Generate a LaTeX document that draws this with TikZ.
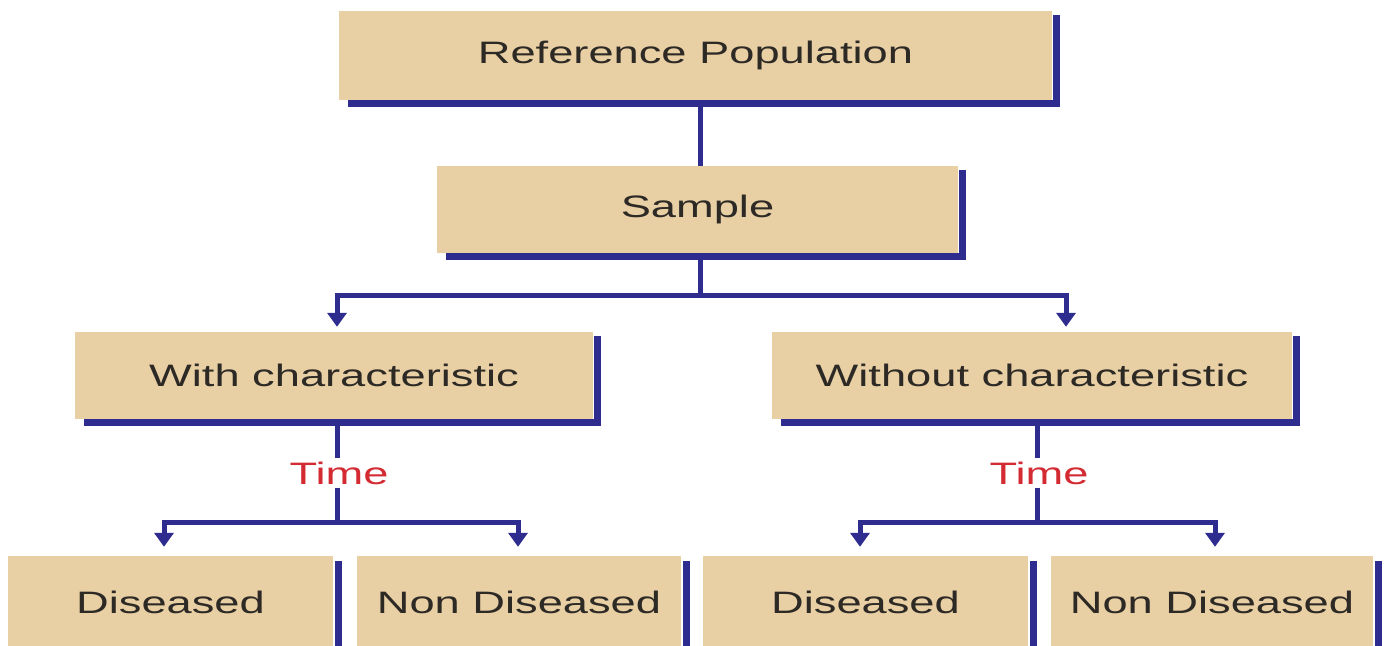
\documentclass[tikz,border=0pt]{standalone}
\usepackage{graphicx}
\usepackage{fontspec}
\setmainfont{Liberation Sans}
\usetikzlibrary{arrows.meta}
\definecolor{boxtan}{HTML}{E8CFA4}
\definecolor{lineblue}{HTML}{2E2D8F}
\definecolor{timered}{HTML}{D42B33}
\definecolor{textdark}{HTML}{2D2A26}
\newcommand\wtxt[1]{\scalebox{1.46}[1]{#1}}
\tikzset{
  box/.style={fill=boxtan, inner sep=0pt, text=textdark,
    font=\fontsize{31}{37}\selectfont},
  shade line/.style={draw=lineblue, line width=7pt},
  conn/.style={draw=lineblue, line width=5pt},
  arr/.style={-{Triangle[length=14pt,width=19pt]}},
  timetxt/.style={inner sep=3pt, text=timered,
    font=\fontsize{31}{37}\selectfont}
}
\begin{document}
\begin{tikzpicture}[x=1pt,y=-1pt]
\useasboundingbox (0,0) rectangle (1386,645);
\clip (0,0) rectangle (1386,645);
\fill[white] (0,0) rectangle (1386,645);
% boxes
\node[box, minimum width=713pt, minimum height=89pt] (ref) at (695.5,55.5) {\wtxt{Reference Population}};
\node[box, minimum width=521pt, minimum height=87pt] (sample) at (697.5,209.5) {\wtxt{Sample}};
\node[box, minimum width=518pt, minimum height=87pt] (with) at (334,375.5) {\wtxt{With characteristic}};
\node[box, minimum width=520pt, minimum height=87pt] (without) at (1032,375.5) {\wtxt{Without characteristic}};
\node[box, minimum width=325pt, minimum height=92pt] (dl) at (170.5,602) {\wtxt{Diseased}};
\node[box, minimum width=324pt, minimum height=92pt] (nl) at (519,602) {\wtxt{Non Diseased}};
\node[box, minimum width=325pt, minimum height=92pt] (dr) at (865.5,602) {\wtxt{Diseased}};
\node[box, minimum width=322pt, minimum height=92pt] (nr) at (1212,602) {\wtxt{Non Diseased}};
% shadows
\foreach \b in {ref,sample,with,without}{
  \draw[shade line] ([xshift=9pt,yshift=-3.5pt]\b.south west) -| ([xshift=4.5pt,yshift=-4pt]\b.north east);
}
\foreach \b in {dl,nl,dr,nr}{
  \draw[shade line] ([xshift=5pt,yshift=-5pt]\b.north east) -- ([xshift=5pt,yshift=-60pt]\b.south east);
}
% connector coordinates
\coordinate (tA) at (700,0);
\coordinate (j1) at (700,295);
\coordinate (aL) at (337,0);
\coordinate (aR) at (1066,0);
\coordinate (j2) at (337,522);
\coordinate (j3) at (1037,522);
\coordinate (bL1) at (164,0);
\coordinate (bL2) at (518,0);
\coordinate (bR1) at (860,0);
\coordinate (bR2) at (1215,0);
% time labels
\node[timetxt] (t1) at (339,473) {\wtxt{Time}};
\node[timetxt] (t2) at (1039,473) {\wtxt{Time}};
% connectors
\draw[conn] ([yshift=-3pt]ref.south -| tA) -- (sample.north -| tA);
\draw[conn] ([yshift=-3pt]sample.south -| tA) -- (j1);
\draw[conn,arr] (j1) -| ([yshift=5pt]with.north -| aL);
\draw[conn,arr] (j1) -| ([yshift=5pt]without.north -| aR);
\draw[conn] ([yshift=-3pt]with.south -| j2) -- (t1.north -| j2);
\draw[conn] (t1.south -| j2) -- (j2);
\draw[conn,arr] (j2) -| ([yshift=9pt]dl.north -| bL1);
\draw[conn,arr] (j2) -| ([yshift=9pt]nl.north -| bL2);
\draw[conn] ([yshift=-3pt]without.south -| j3) -- (t2.north -| j3);
\draw[conn] (t2.south -| j3) -- (j3);
\draw[conn,arr] (j3) -| ([yshift=9pt]dr.north -| bR1);
\draw[conn,arr] (j3) -| ([yshift=9pt]nr.north -| bR2);
\end{tikzpicture}
\end{document}
